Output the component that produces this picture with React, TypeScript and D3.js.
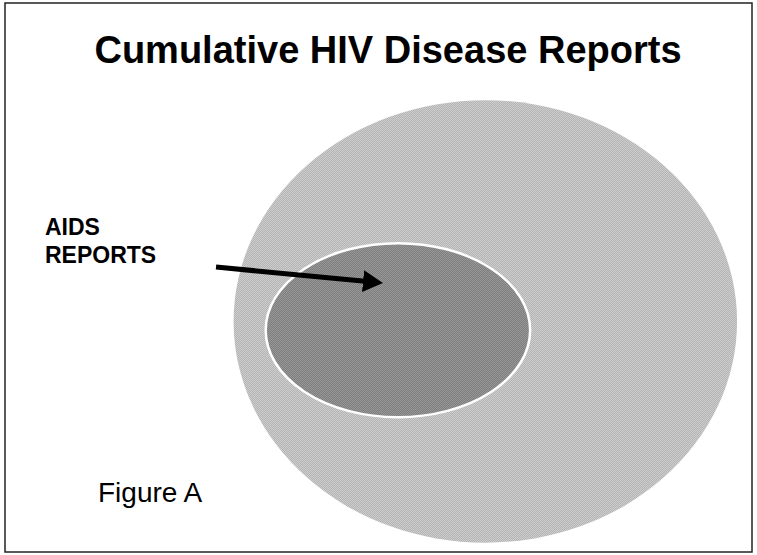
import { useEffect, useRef } from "react";
import * as d3 from "d3";

// chart text
const titleText = "Cumulative HIV Disease Reports";
const setLabels = ["AIDS", "REPORTS"];
const figureLabel = "Figure A";

// the two nested sets, in frame units (0-100 on each axis)
const setNames = ["HIV disease", "AIDS"];
const setCx = [64.3, 52.6];
const setCy = [58.0, 59.6];
const setRx = [33.7, 17.7];
const setRy = [40.3, 15.85];

// arrow from the label into the inner set
const arrowFrom = [28.25, 48.1];
const arrowTo = [50.6, 51.0];

const W = 757;
const H = 555;

const App: React.FC = () => {
    const svgRef = useRef<SVGSVGElement>(null);

    useEffect(() => {
        const svg = d3.select(svgRef.current);
        svg.selectAll("*").remove();

        // frame box
        const box = { x0: 5, y0: 3, x1: 752, y1: 552 };
        const x = d3.scaleLinear().domain([0, 100]).range([box.x0, box.x1]);
        const y = d3.scaleLinear().domain([0, 100]).range([box.y0, box.y1]);
        const kx = (box.x1 - box.x0) / 100;
        const ky = (box.y1 - box.y0) / 100;

        const defs = svg.append("defs");

        // fine dotted textures like the original fills
        const pat = (id: string, a: string, b: string) => {
            const p = defs.append("pattern")
                .attr("id", id)
                .attr("width", 2)
                .attr("height", 2)
                .attr("patternUnits", "userSpaceOnUse");
            p.append("rect").attr("width", 2).attr("height", 2).attr("fill", a);
            p.append("rect").attr("width", 1).attr("height", 1).attr("fill", b);
            p.append("rect").attr("x", 1).attr("y", 1).attr("width", 1).attr("height", 1).attr("fill", b);
        };
        pat("texOuter", "#b4b4b4", "#cdcdcd");
        pat("texInner", "#7e7e7e", "#979797");

        defs.append("marker")
            .attr("id", "head")
            .attr("markerUnits", "userSpaceOnUse")
            .attr("viewBox", "0 0 20 22")
            .attr("refX", 2)
            .attr("refY", 11)
            .attr("markerWidth", 20)
            .attr("markerHeight", 22)
            .attr("orient", "auto")
            .append("path")
            .attr("d", "M0,0 L20,11 L0,22 Z")
            .attr("fill", "#000");

        svg.append("rect")
            .attr("x", box.x0)
            .attr("y", box.y0)
            .attr("width", box.x1 - box.x0)
            .attr("height", box.y1 - box.y0)
            .attr("fill", "#fff")
            .attr("stroke", "#222")
            .attr("stroke-width", 1.5);

        svg.append("text")
            .attr("x", 388)
            .attr("y", 63)
            .attr("text-anchor", "middle")
            .attr("font-family", "'Liberation Sans', Arial, sans-serif")
            .attr("font-weight", "bold")
            .attr("font-size", 38)
            .attr("fill", "#000")
            .text(titleText);

        // set ellipses
        svg.selectAll("ellipse.set")
            .data(setNames)
            .enter()
            .append("ellipse")
            .attr("class", "set")
            .attr("cx", (_, i) => x(setCx[i]))
            .attr("cy", (_, i) => y(setCy[i]))
            .attr("rx", (_, i) => setRx[i] * kx)
            .attr("ry", (_, i) => setRy[i] * ky)
            .attr("fill", (_, i) => (i === 0 ? "url(#texOuter)" : "url(#texInner)"))
            .attr("stroke", (_, i) => (i === 0 ? "none" : "#fff"))
            .attr("stroke-width", 2.5);

        // label
        svg.append("text")
            .attr("font-family", "'Liberation Sans', Arial, sans-serif")
            .attr("font-weight", "bold")
            .attr("font-size", 23)
            .attr("fill", "#000")
            .selectAll("tspan")
            .data(setLabels)
            .enter()
            .append("tspan")
            .attr("x", 45)
            .attr("y", (_, i) => 235 + i * 28)
            .text(d => d);

        // arrow
        const ax0 = x(arrowFrom[0]), ay0 = y(arrowFrom[1]);
        const ax1 = x(arrowTo[0]), ay1 = y(arrowTo[1]);
        const len = Math.hypot(ax1 - ax0, ay1 - ay0);
        const ux = (ax1 - ax0) / len, uy = (ay1 - ay0) / len;
        svg.append("line")
            .attr("x1", ax0)
            .attr("y1", ay0)
            .attr("x2", ax1 - ux * 18)
            .attr("y2", ay1 - uy * 18)
            .attr("stroke", "#000")
            .attr("stroke-width", 5)
            .attr("marker-end", "url(#head)");

        svg.append("text")
            .attr("x", 98)
            .attr("y", 502)
            .attr("font-family", "'Liberation Sans', Arial, sans-serif")
            .attr("font-size", 28)
            .attr("fill", "#000")
            .text(figureLabel);
    }, []);

    return (
        <svg
            ref={svgRef}
            width={W}
            height={H}
            style={{ position: "absolute", left: 0, top: 0, background: "#fff" }}
        ></svg>
    );
};

export default App;
